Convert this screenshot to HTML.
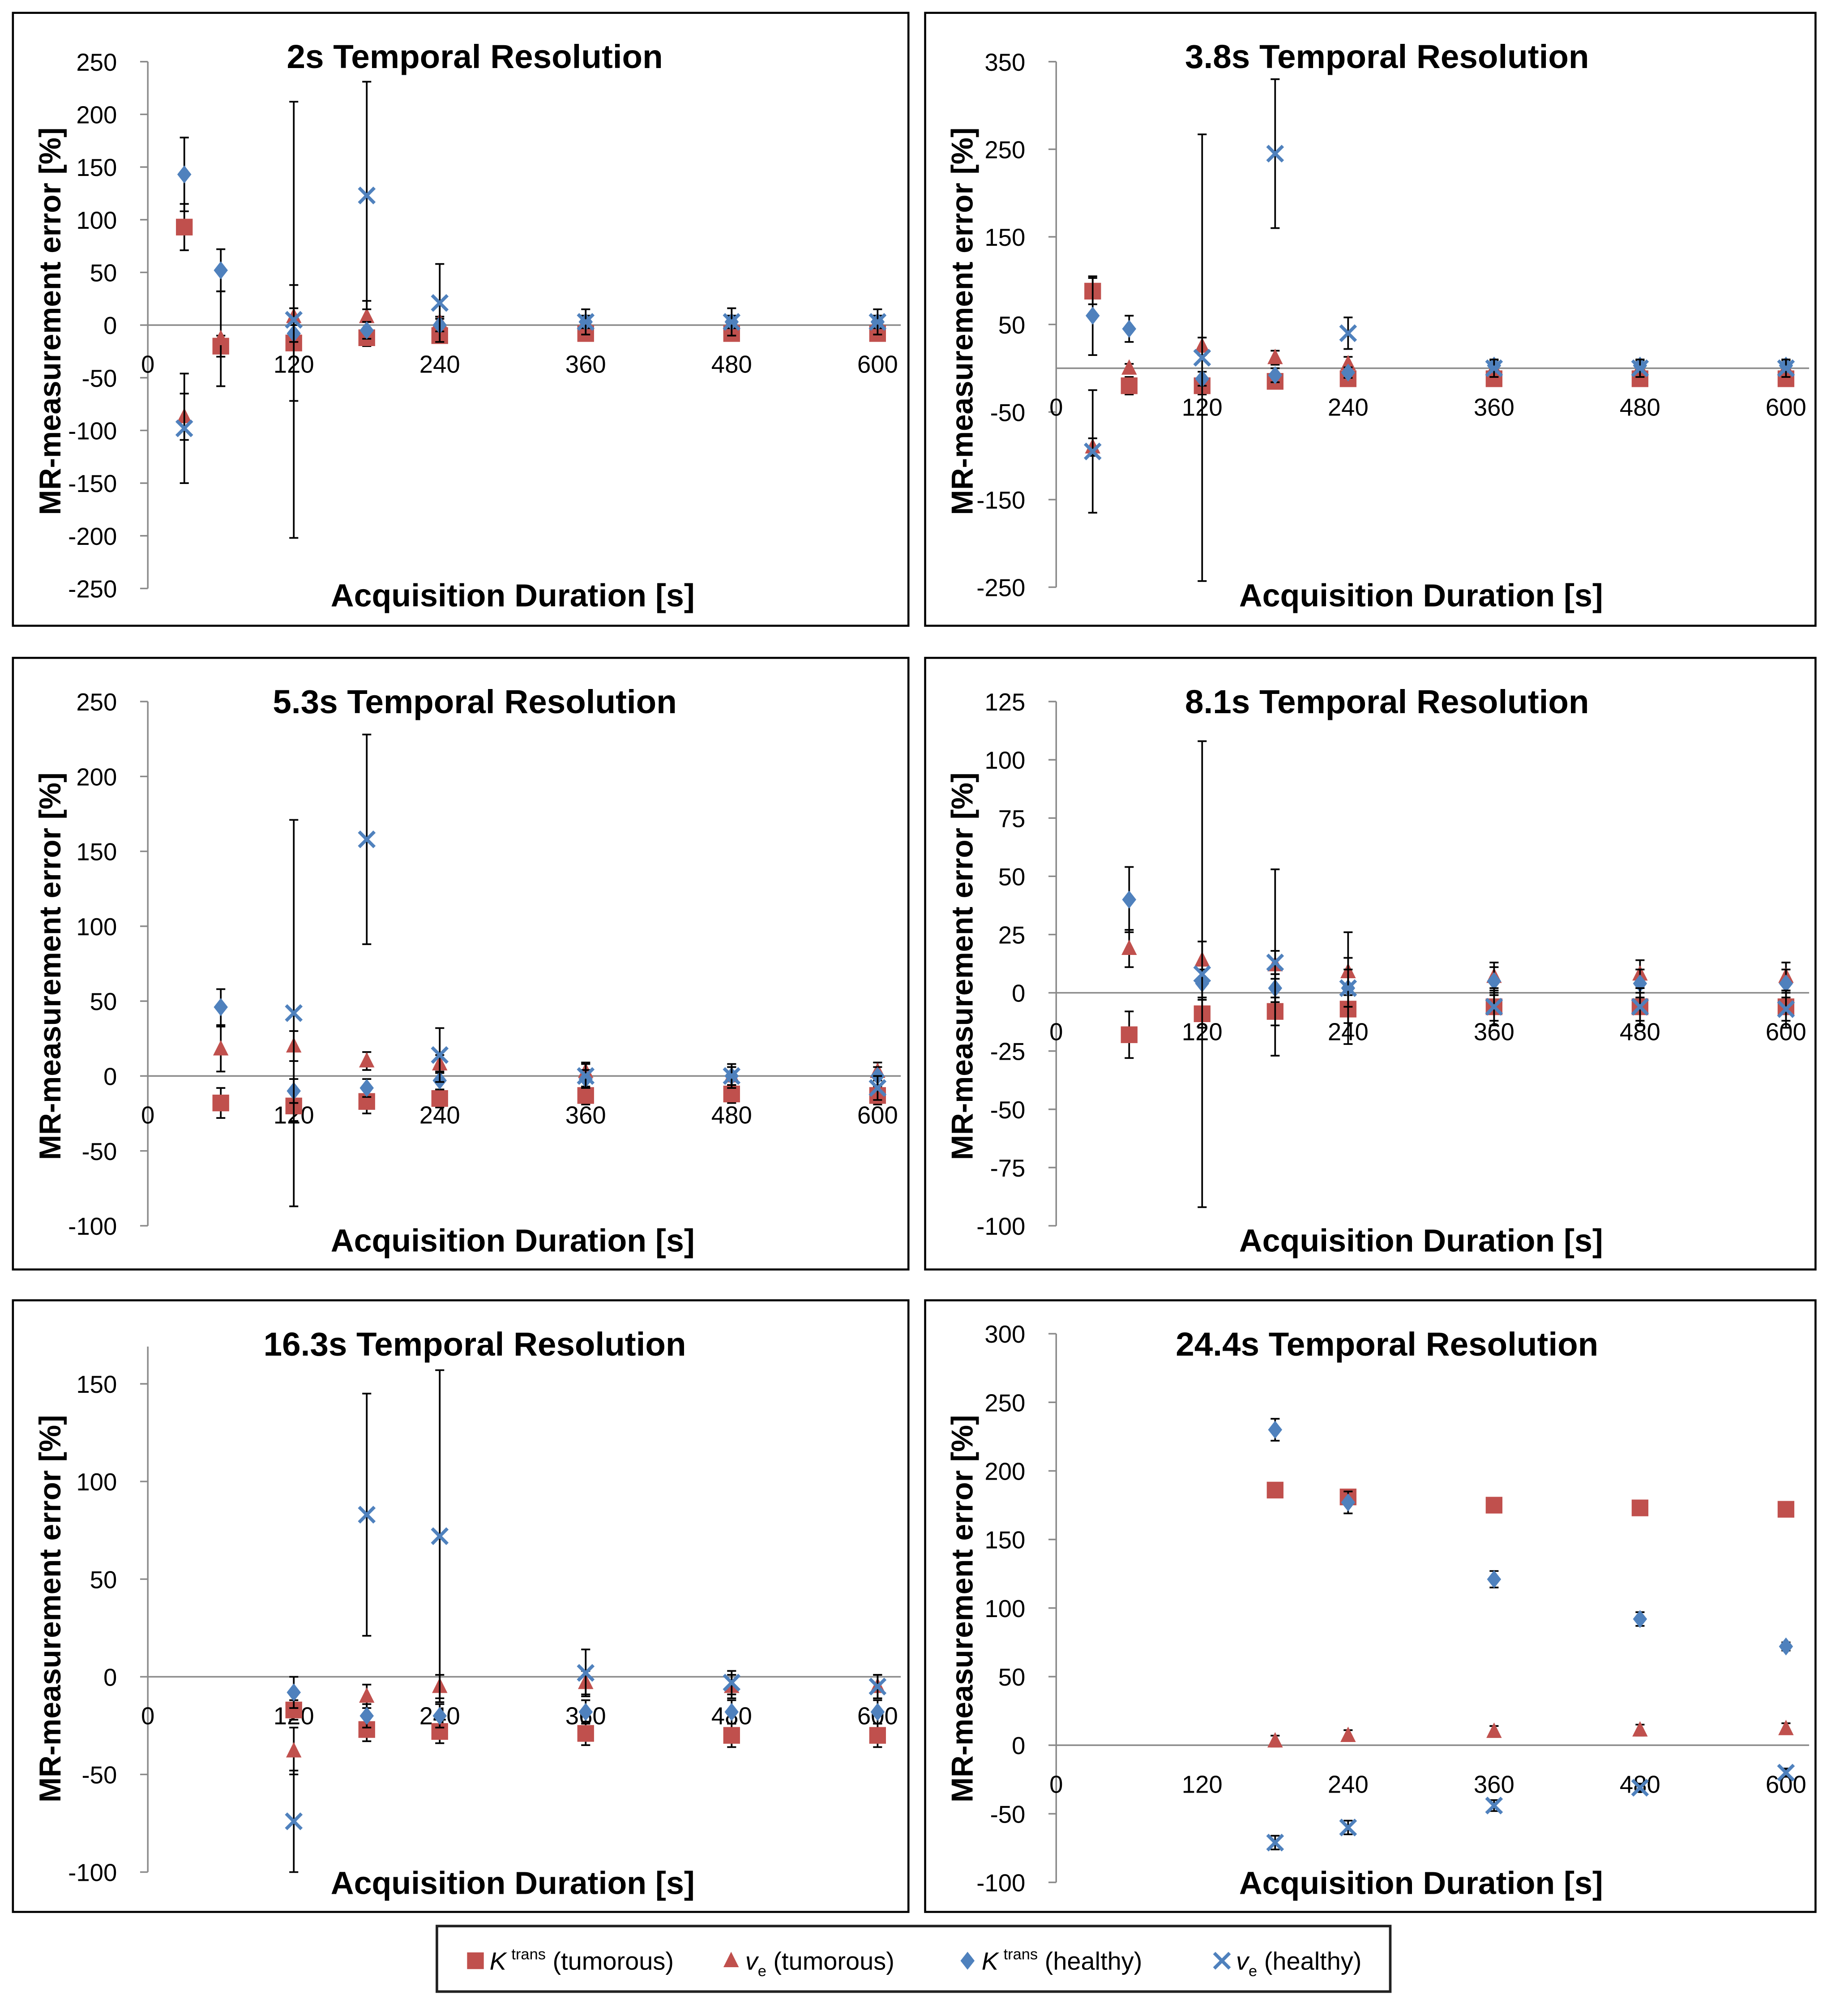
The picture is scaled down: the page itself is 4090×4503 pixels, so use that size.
<!DOCTYPE html>
<html><head><meta charset="utf-8"><style>
html,body{margin:0;padding:0;background:#fff}
svg{display:block}
text{font-family:"Liberation Sans",sans-serif}
</style></head><body>
<svg id="chart" xmlns="http://www.w3.org/2000/svg" width="4090" height="4503" viewBox="0 0 1425 1569"></svg>
<script>
// Shared categories
const durations = [30, 60, 120, 180, 240, 360, 480, 600];
const xTickLabels = [0, 120, 240, 360, 480, 600];
const titles = ["2s Temporal Resolution","3.8s Temporal Resolution","5.3s Temporal Resolution","8.1s Temporal Resolution","16.3s Temporal Resolution","24.4s Temporal Resolution"];
// Panel 1 (2s)
const p1_kt = [93,-20,-17,-12,-10,-8,-8,-8];
const p1_kt_err = [22,10,55,8,5,5,5,5];
const p1_vt = [-87,-13,8,8,3,3,3,3];
const p1_vt_err = [22,45,8,15,5,5,5,5];
const p1_kh = [143,52,-8,-5,0,3,3,3];
const p1_kh_err = [35,20,8,8,6,6,6,6];
const p1_vh = [-98,null,5,123,21,3,3,3];
const p1_vh_err = [52,0,207,108,37,12,13,12];
const p1_ticks = [250,200,150,100,50,0,-50,-100,-150,-200,-250];
// Panel 2 (3.8s)
const p2_kt = [88,-20,-20,-15,-12,-12,-12,-12];
const p2_kt_err = [15,10,10,8,8,6,6,6];
const p2_vt = [-90,0,25,12,5,0,0,0];
const p2_vt_err = [10,5,10,8,8,5,5,5];
const p2_kh = [60,45,-12,-8,-5,3,3,3];
const p2_kh_err = [45,15,8,8,6,6,6,6];
const p2_vh = [-95,null,12,245,40,0,0,0];
const p2_vh_err = [70,0,255,85,18,10,10,10];
const p2_ticks = [350,250,150,50,-50,-150,-250];
// Panel 3 (5.3s)
const p3_kt = [null,-18,-20,-17,-15,-13,-12,-13];
const p3_kt_err = [0,10,10,8,6,6,6,6];
const p3_vt = [null,18,20,10,8,3,0,3];
const p3_vt_err = [0,15,10,6,6,6,6,6];
const p3_kh = [null,46,-10,-8,-3,-2,0,0];
const p3_kh_err = [0,12,8,6,6,6,6,6];
const p3_vh = [null,null,42,158,14,0,0,-8];
const p3_vh_err = [0,0,129,70,18,8,8,8];
const p3_ticks = [250,200,150,100,50,0,-50,-100];
// Panel 4 (8.1s)
const p4_kt = [null,-18,-9,-8,-7,-6,-6,-6];
const p4_kt_err = [0,10,6,6,6,6,6,6];
const p4_vt = [null,19,14,12,9,7,8,7];
const p4_vt_err = [0,8,8,6,6,6,6,6];
const p4_kh = [null,40,4,2,2,5,4,4];
const p4_kh_err = [0,14,6,6,8,6,6,6];
const p4_vh = [null,null,8,13,2,-6,-6,-7];
const p4_vh_err = [0,0,100,40,24,8,8,8];
const p4_ticks = [125,100,75,50,25,0,-25,-50,-75,-100];
// Panel 5 (16.3s)
const p5_kt = [null,null,-17,-27,-28,-29,-30,-30];
const p5_kt_err = [0,0,5,6,6,6,6,6];
const p5_vt = [null,null,-38,-10,-5,-3,-5,-5];
const p5_vt_err = [0,0,12,6,6,6,6,6];
const p5_kh = [null,null,-8,-20,-20,-18,-18,-18];
const p5_kh_err = [0,0,8,6,6,6,6,6];
const p5_vh = [null,null,-74,83,72,2,-3,-5];
const p5_vh_err = [0,0,26,62,85,12,6,6];
const p5_ticks = [150,100,50,0,-50,-100];
// Panel 6 (24.4s)
const p6_kt = [null,null,null,186,181,175,173,172];
const p6_kt_err = [0,0,0,4,4,4,4,4];
const p6_vt = [null,null,null,3,7,10,11,12];
const p6_vt_err = [0,0,0,4,4,4,4,4];
const p6_kh = [null,null,null,230,177,121,92,72];
const p6_kh_err = [0,0,0,8,8,6,5,3];
const p6_vh = [null,null,null,-71,-60,-44,-31,-20];
const p6_vh_err = [0,0,0,5,5,4,3,3];
const p6_ticks = [300,250,200,150,100,50,0,-50,-100];

const NS = "http://www.w3.org/2000/svg";
const svg = document.getElementById("chart");
function mk(tag, attrs, parent) {
  const e = document.createElementNS(NS, tag);
  for (const k in attrs) e.setAttribute(k, attrs[k]);
  (parent || svg).appendChild(e);
  return e;
}
const RED = "#C0504D", BLUE = "#4F81BD";

const layouts = [
  {bx:10,by:10,bw:697,bh:477,ax:115,ax600:683,vTop:250,yTop:48,vBot:-250,yBot:458,axTop:48,axBot:458},
  {bx:720,by:10,bw:693,bh:477,ax:822,ax600:1390,vTop:350,yTop:48,vBot:-250,yBot:457,axTop:48,axBot:457},
  {bx:10,by:512,bw:697,bh:476,ax:115,ax600:683,vTop:250,yTop:546,vBot:-100,yBot:954,axTop:546,axBot:954},
  {bx:720,by:512,bw:693,bh:476,ax:822,ax600:1390,vTop:125,yTop:546,vBot:-100,yBot:954,axTop:546,axBot:954},
  {bx:10,by:1012,bw:697,bh:476,ax:115,ax600:683,vTop:150,yTop:1077,vBot:-100,yBot:1457,axTop:1048,axBot:1457},
  {bx:720,by:1012,bw:693,bh:476,ax:822,ax600:1390,vTop:300,yTop:1038,vBot:-100,yBot:1465,axTop:1038,axBot:1465}
];
const panelData = [
  [p1_kt,p1_kt_err,p1_vt,p1_vt_err,p1_kh,p1_kh_err,p1_vh,p1_vh_err,p1_ticks],
  [p2_kt,p2_kt_err,p2_vt,p2_vt_err,p2_kh,p2_kh_err,p2_vh,p2_vh_err,p2_ticks],
  [p3_kt,p3_kt_err,p3_vt,p3_vt_err,p3_kh,p3_kh_err,p3_vh,p3_vh_err,p3_ticks],
  [p4_kt,p4_kt_err,p4_vt,p4_vt_err,p4_kh,p4_kh_err,p4_vh,p4_vh_err,p4_ticks],
  [p5_kt,p5_kt_err,p5_vt,p5_vt_err,p5_kh,p5_kh_err,p5_vh,p5_vh_err,p5_ticks],
  [p6_kt,p6_kt_err,p6_vt,p6_vt_err,p6_kh,p6_kh_err,p6_vh,p6_vh_err,p6_ticks]
];

function marker(g, type, cx, cy) {
  let m;
  if (type === 0) m = mk("rect", {x:cx-6.5, y:cy-6.5, width:13, height:13, fill:RED}, g);
  else if (type === 1) m = mk("polygon", {points:`${cx},${cy-7} ${cx+6},${cy+5} ${cx-6},${cy+5}`, fill:RED}, g);
  else if (type === 2) m = mk("polygon", {points:`${cx},${cy-7} ${cx+5.5},${cy} ${cx},${cy+7} ${cx-5.5},${cy}`, fill:BLUE}, g);
  else m = mk("path", {d:`M${cx-6},${cy-6}L${cx+6},${cy+6}M${cx+6},${cy-6}L${cx-6},${cy+6}`, stroke:BLUE, "stroke-width":2.6, fill:"none"}, g);
  return m;
}

layouts.forEach((L, pi) => {
  const D = panelData[pi];
  const g = mk("g", {});
  
  
  const xS = v => L.ax + (v / 600) * (L.ax600 - L.ax);
  const yS = v => L.yTop + (L.vTop - v) / (L.vTop - L.vBot) * (L.yBot - L.yTop);
  const box = mk("rect", {x:L.bx, y:L.by, width:L.bw, height:L.bh, fill:"#fff", stroke:"#000", "stroke-width":1.6}, g);
  
  
  const t = mk("text", {x:L.bx + L.bw/2 + (pi%2===0 ? 11 : 13), y:L.by + 43, "text-anchor":"middle", "font-size":26, "font-weight":"bold"}, g);
  t.textContent = titles[pi];
  
  
  const ya = mk("line", {x1:L.ax, y1:L.axTop, x2:L.ax, y2:L.axBot, stroke:"#8a8a8a", "stroke-width":1.2}, g);
  
  
  D[8].forEach(v => {
    const y = yS(v);
    mk("line", {x1:L.ax-6, y1:y, x2:L.ax, y2:y, stroke:"#8a8a8a", "stroke-width":1.2}, g);
    const tl = mk("text", {x:L.ax-24, y:y+7, "text-anchor":"end", "font-size":19}, g);
    tl.textContent = v;
    
    
  });
  const y0 = yS(0);
  const xa = mk("line", {x1:L.ax, y1:y0, x2:L.ax600 + 18, y2:y0, stroke:"#8a8a8a", "stroke-width":1.2}, g);
  
  
  xTickLabels.forEach(v => {
    const tl = mk("text", {x:xS(v), y:y0+37, "text-anchor":"middle", "font-size":19}, g);
    tl.textContent = v;
    
    
  });
  const xl = mk("text", {x:(pi%2===0 ? 399 : 1106), y:L.by + 462, "text-anchor":"middle", "font-size":25, "font-weight":"bold"}, g);
  xl.textContent = "Acquisition Duration [s]";
  
  
  const yc = L.by + 240;
  const ylx = L.bx + 37;
  const yl = mk("text", {x:ylx, y:yc, "text-anchor":"middle", "font-size":23.5, "font-weight":"bold", transform:`rotate(-90 ${ylx} ${yc})`}, g);
  yl.textContent = "MR-measurement error [%]";
  
  
  const seriesNames = ["ktrans-tumorous","ve-tumorous","ktrans-healthy","ve-healthy"];
  for (let s = 0; s < 4; s++) {
    const vals = D[s*2], errs = D[s*2+1];
    const sg = mk("g", {}, g);
    
    
    vals.forEach((v, i) => {
      if (v === null || v === undefined) return;
      const cx = xS(durations[i]);
      const e = errs[i];
      if (e > 0) {
        const yt = yS(v + e), yb = yS(v - e);
        const eb = mk("path", {d:`M${cx},${yt}L${cx},${yb}M${cx-3.5},${yt}L${cx+3.5},${yt}M${cx-3.5},${yb}L${cx+3.5},${yb}`, stroke:"#000", "stroke-width":1.3, fill:"none"}, sg);
        
        
      }
    });
    vals.forEach((v, i) => {
      if (v === null || v === undefined) return;
      const m = marker(sg, s, xS(durations[i]), yS(v));
      
      
    });
  }
});

const lg = mk("g", {});


mk("rect", {x:340, y:1499, width:742, height:51, fill:"#fff", stroke:"#222", "stroke-width":2}, lg);
const legendItems = [
  {t:0, x:370, main:"K", sup:"trans", rest:" (tumorous)"},
  {t:1, x:569, main:"v", sub:"e", rest:" (tumorous)"},
  {t:2, x:753, main:"K", sup:"trans", rest:" (healthy)"},
  {t:3, x:951, main:"v", sub:"e", rest:" (healthy)"}
];
legendItems.forEach(it => {
  const eg = mk("g", {}, lg);
  
  
  marker(eg, it.t, it.x, 1526);
  const tx = mk("text", {x:it.x + 11, y:1533, "font-size":19.5}, eg);
  const a = mk("tspan", {"font-style":"italic"}, tx); a.textContent = it.main;
  if (it.sup) { const b = mk("tspan", {"font-size":12, dy:-8, dx:4}, tx); b.textContent = it.sup;
    const c = mk("tspan", {dy:8}, tx); c.textContent = it.rest; }
  else { const b = mk("tspan", {"font-size":12, dy:5}, tx); b.textContent = it.sub;
    const c = mk("tspan", {dy:-5}, tx); c.textContent = it.rest; }
});
</script>
</body></html>
